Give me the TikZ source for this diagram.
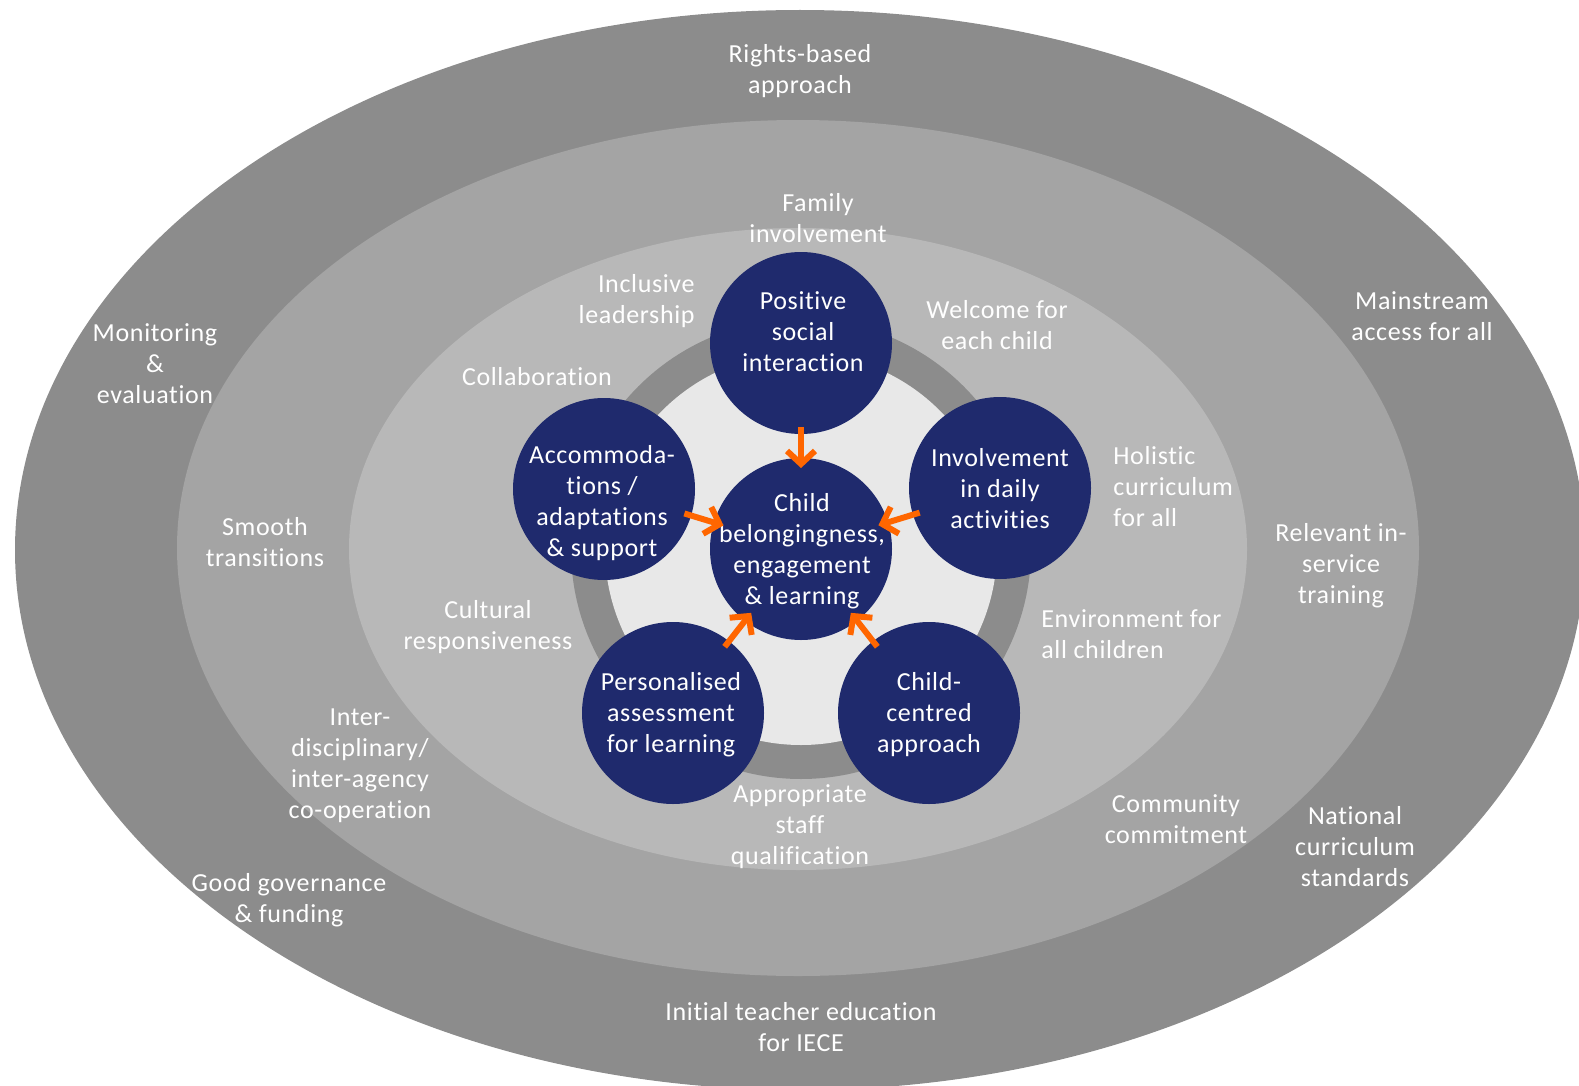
\documentclass[tikz,border=0pt]{standalone}
\usepackage{fontspec}
\setmainfont{Carlito}[Ligatures={NoCommon}, LetterSpace=2.5]
\usetikzlibrary{arrows.meta}
\definecolor{outerG}{HTML}{8C8C8C}
\definecolor{midG}{HTML}{A4A4A4}
\definecolor{lightG}{HTML}{B8B8B8}
\definecolor{ringG}{HTML}{8C8C8C}
\definecolor{coreG}{HTML}{E8E8E8}
\definecolor{navy}{HTML}{1F2A6D}
\definecolor{orangeA}{HTML}{FF6600}
\begin{document}
\begin{tikzpicture}[x=0.5pt,y=-0.5pt,
  wt/.style={text=white, inner sep=0pt, font=\fontsize{13}{15.5}\selectfont},
  bub/.style={circle, fill=navy, minimum size=91pt, inner sep=0pt},
  arr/.style={draw=orangeA, line width=3pt, -{Straight Barb[length=6.5pt,width=14pt]},
              shorten <=42pt, shorten >=40.5pt}]
\useasboundingbox (0,0) rectangle (1579,1086);
\clip (0,0) rectangle (1579,1086);
% rings
\fill[outerG] (800,550) ellipse [x radius=785, y radius=540];
\fill[midG] (798,548) ellipse [x radius=621, y radius=428];
\fill[lightG] (798,549) ellipse [x radius=449, y radius=321];
\fill[ringG] (801,549) circle [radius=230];
\fill[coreG] (801,549) circle [radius=196];
% bubbles
\node[bub] (cent) at (801,549) {};
\node[bub] (top) at (801,343) {};
\node[bub] (lft) at (604,489) {};
\node[bub] (rgt) at (1000,488) {};
\node[bub] (bl) at (673,713) {};
\node[bub] (br) at (929,713) {};
% bubble texts
\node[wt, align=center] (centT) at (802,551) {Child\\belongingness,\\engagement\\\& learning};
\node[wt, align=center] (topT) at (803,332) {Positive\\social\\interaction};
\node[wt, align=center] (lftT) at (602,503) {Accommoda-\\tions /\\adaptations\\\& support};
\node[wt, align=center] (rgtT) at (1000,489) {Involvement\\in daily\\activities};
\node[wt, align=center] (blT) at (671,715) {Personalised\\assessment\\for learning};
\node[wt, align=center] (brT) at (929,715) {Child-\\centred\\approach};
% arrows
\draw[arr] (top.center) -- (cent.center);
\draw[arr] (lft.center) -- (cent.center);
\draw[arr] (rgt.center) -- (cent.center);
\draw[arr] (bl.center) -- (cent.center);
\draw[arr] (br.center) -- (cent.center);
% ring labels
\node[wt, align=center] (rights) at (800,71) {Rights-based\\approach};
\node[wt, align=center] (family) at (818,218) {Family\\involvement};
\node[wt, align=right, anchor=east] (lead) at (695,301) {Inclusive\\leadership};
\node[wt, align=center] (welcome) at (997,325) {Welcome for\\each child};
\node[wt, align=center] (monit) at (155,364) {Monitoring\\\&\\evaluation};
\node[wt, align=center] (collab) at (537,377) {Collaboration};
\node[wt, align=center] (mainst) at (1422,316) {Mainstream\\access for all};
\node[wt, align=left, anchor=west] (holist) at (1113,487) {Holistic\\curriculum\\for all};
\node[wt, align=center] (smooth) at (265,542) {Smooth\\transitions};
\node[wt, align=center] (relev) at (1341,566) {Relevant in-\\service\\training};
\node[wt, align=center] (cult) at (488,627) {Cultural\\responsiveness};
\node[wt, align=left, anchor=west] (envir) at (1041,634) {Environment for\\all children};
\node[wt, align=center] (inter) at (360,766) {Inter-\\disciplinary/\\inter-agency\\co-operation};
\node[wt, align=center] (approp) at (800,827) {Appropriate\\staff\\qualification};
\node[wt, align=center] (commun) at (1176,819) {Community\\commitment};
\node[wt, align=center] (nation) at (1355,847) {National\\curriculum\\standards};
\node[wt, align=center] (govern) at (289,900) {Good governance\\\& funding};
\node[wt, align=center] (initial) at (801,1027) {Initial teacher education\\for IECE};
\end{tikzpicture}
\end{document}
